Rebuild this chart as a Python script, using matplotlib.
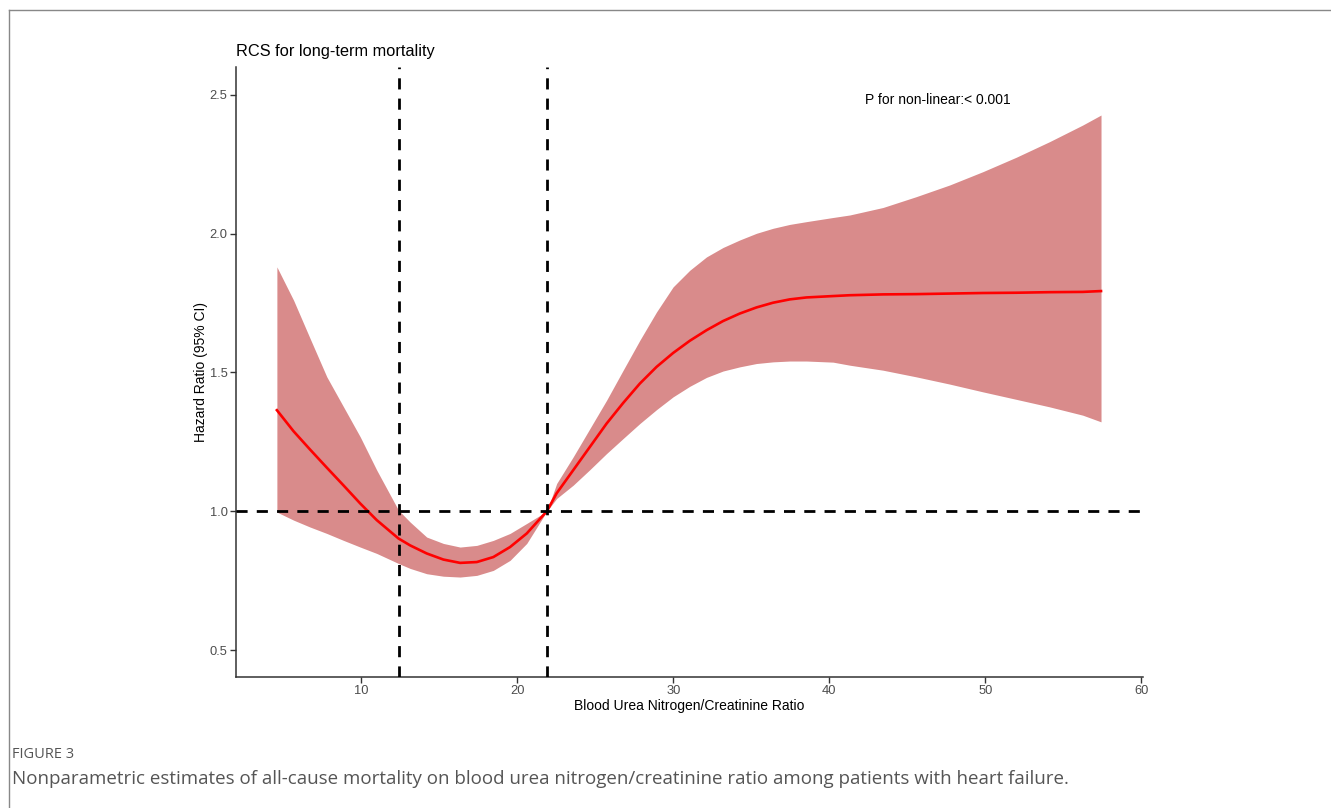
import matplotlib
matplotlib.use("Agg")
import matplotlib.pyplot as plt
from matplotlib.lines import Line2D

plt.rcParams['font.family'] = ['Liberation Sans', 'DejaVu Sans']

# Data
bun_cr = [4.60, 5.67, 6.73, 7.80, 8.87, 9.94, 11.0, 12.39, 13.14, 14.2, 15.27, 16.34,
          17.41, 18.47, 19.54, 20.61, 21.9,
          22.53, 23.59, 24.66, 25.73, 26.79, 27.86, 28.93, 29.99, 31.06, 32.13, 33.19,
          34.26, 35.33, 36.39, 37.46, 38.53, 40.24,
          41.31, 43.44, 45.57, 47.71, 49.84, 51.98, 54.11, 56.24, 57.41]
hr = [1.364, 1.288, 1.222, 1.157, 1.093, 1.028, 0.968, 0.902, 0.877, 0.848, 0.826, 0.814,
      0.817, 0.835, 0.871, 0.920, 1.0,
      1.065, 1.148, 1.232, 1.316, 1.390, 1.460, 1.520, 1.570, 1.614, 1.652, 1.685,
      1.712, 1.734, 1.751, 1.763, 1.770, 1.775,
      1.778, 1.781, 1.782, 1.784, 1.786, 1.787, 1.789, 1.790, 1.793]
hr_lower = [0.997, 0.968, 0.943, 0.920, 0.895, 0.871, 0.848, 0.812, 0.794, 0.775, 0.766, 0.763,
            0.769, 0.787, 0.823, 0.884, 1.0,
            1.046, 1.094, 1.150, 1.208, 1.262, 1.316, 1.366, 1.412, 1.450, 1.482, 1.505,
            1.520, 1.532, 1.538, 1.541, 1.541, 1.537,
            1.526, 1.508, 1.484, 1.458, 1.430, 1.403, 1.376, 1.346, 1.322]
hr_upper = [1.880, 1.760, 1.622, 1.484, 1.376, 1.268, 1.148, 1.004, 0.961, 0.907, 0.884, 0.871,
            0.877, 0.895, 0.920, 0.956, 1.0,
            1.100, 1.196, 1.298, 1.400, 1.508, 1.616, 1.718, 1.808, 1.868, 1.916, 1.950,
            1.977, 2.001, 2.019, 2.033, 2.043, 2.058,
            2.067, 2.094, 2.133, 2.175, 2.223, 2.275, 2.331, 2.391, 2.427]
cut_points = [12.4, 21.9]
ref_hr = 1.0
x_ticks = [10, 20, 30, 40, 50, 60]
y_ticks = [0.5, 1.0, 1.5, 2.0, 2.5]
y_tick_labels = ["0.5", "1.0", "1.5", "2.0", "2.5"]

fig = plt.figure(figsize=(13.31, 8.08), dpi=100)
ax = fig.add_axes([236/1331, 1-677/808, (1143-236)/1331, (677-67)/808])

ax.fill_between(bun_cr, hr_lower, hr_upper, color='#D98B8B', linewidth=0, zorder=1)
ax.plot(bun_cr, hr, color='#FF0000', linewidth=1.9, zorder=3, solid_joinstyle='round')
dash = (4, 3.3)
ax.axhline(ref_hr, color='black', linewidth=2, dashes=dash, zorder=4)
for c in cut_points:
    ax.axvline(c, color='black', linewidth=2, dashes=dash, zorder=4)

ax.set_xlim(1.98, 60.1)
ax.set_ylim(0.403, 2.60)
ax.set_xticks(x_ticks)
ax.set_yticks(y_ticks)
ax.set_yticklabels(y_tick_labels)
for s in ['top', 'right']:
    ax.spines[s].set_visible(False)
for s in ['left', 'bottom']:
    ax.spines[s].set_color('#333333')
    ax.spines[s].set_linewidth(1.1)
ax.tick_params(axis='both', colors='#333333', labelcolor='#4D4D4D', length=4,
               width=1, labelsize=9.3, pad=2)

ax.set_xlabel('Blood Urea Nitrogen/Creatinine Ratio', fontsize=10, color='black', labelpad=1)
ax.set_ylabel('Hazard Ratio (95% CI)', fontsize=10, color='black', labelpad=1)
ax.set_title('RCS for long-term mortality', loc='left', fontsize=11.8, color='black', pad=8)
ax.text(42.3, 2.48, 'P for non-linear:< 0.001', fontsize=10, color='black',
        ha='left', va='center')

# Outer frame (top and left)
fig.add_artist(Line2D([9/1331, 1.0], [1-10/808, 1-10/808], color='#888888', linewidth=1))
fig.add_artist(Line2D([9/1331, 9/1331], [0, 1-10/808], color='#888888', linewidth=1))

fig.text(12/1331, 1-755/808, 'FIGURE 3', fontsize=10.5, color='#555555',
         family=['Open Sans', 'DejaVu Sans'], va='center', ha='left')
fig.text(12/1331, 1-779/808,
         'Nonparametric estimates of all-cause mortality on blood urea nitrogen/creatinine ratio among patients with heart failure.',
         fontsize=13.5, color='#555555', family=['Open Sans', 'DejaVu Sans'], va='center', ha='left')

fig.savefig('out.png', dpi=100)
